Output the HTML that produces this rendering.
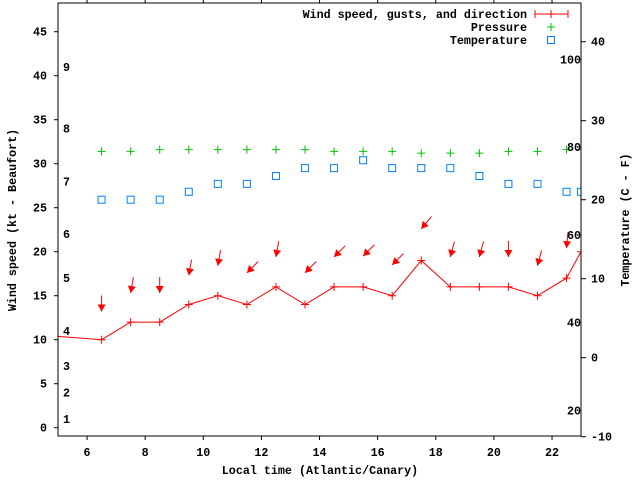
<!DOCTYPE html>
<html><head><meta charset="utf-8"><style>
body{margin:0;background:#fff}
svg{display:block}
text{font-family:"Liberation Mono",monospace;font-size:11.7px;font-weight:bold;fill:#000}
</style></head><body>
<svg id="c" width="640" height="480" viewBox="0 0 640 480" xmlns="http://www.w3.org/2000/svg">
<defs><clipPath id="pc"><rect x="58" y="3" width="523" height="433"/></clipPath></defs>
<g id="grid"></g>
<g id="plot" clip-path="url(#pc)"></g>
<g id="axes"></g>
</svg>
<script>
const hours=[4.5,6.5,7.5,8.5,9.5,10.5,11.5,12.5,13.5,14.5,15.5,16.5,17.5,18.5,19.5,20.5,21.5,22.5,23];
const windSpeed=[10.5,10,12,12,14,15,14,16,14,16,16,15,19,16,16,16,15,17,20];
const gustHours=[6.5,7.5,8.5,9.5,10.5,11.5,12.5,13.5,14.5,15.5,16.5,17.5,18.5,19.5,20.5,21.5,22.5,23];
const gusts=[13.2,15.3,15.3,17.3,18.4,17.6,19.4,17.6,19.4,19.5,18.5,22.6,19.4,19.4,19.4,18.4,20.4,23.5];
const directions=[0,10,0,10,10,45,10,45,45,45,45,40,15,15,0,15,5,35];
const pressure=[31.4,31.4,31.6,31.6,31.6,31.6,31.6,31.6,31.4,31.4,31.4,31.2,31.2,31.2,31.4,31.4,31.6,31.6];
const temperature=[20,20,20,21,22,22,23,24,24,25,24,24,24,23,22,22,21,21];
const xTicks=[6,8,10,12,14,16,18,20,22];
const yTicks=[0,5,10,15,20,25,30,35,40,45];
const y2Ticks=[-10,0,10,20,30,40];
const beaufort=[1,4,7,11,17,22,28,34,41];
const fahrenheit=[20,40,60,80,100];

const X=v=>58+(v-5)*29.06;
const Y=v=>427.7-v*8.8;
const Y2=v=>357.7-v*7.9;
const NS="http://www.w3.org/2000/svg";
function mk(tag,attrs,parent,txt){const e=document.createElementNS(NS,tag);for(const k in attrs)e.setAttribute(k,attrs[k]);if(txt!==undefined)e.textContent=txt;document.getElementById(parent).appendChild(e);return e;}
const ax='axes',pl='plot';
// frame
let e=mk('rect',{x:58,y:3,width:523,height:433,fill:'none',stroke:'#000','stroke-width':1},ax);

xTicks.forEach(t=>{const x=X(t);
 mk('line',{x1:x,y1:436,x2:x,y2:440,stroke:'#000'},ax);
 mk('line',{x1:x,y1:3,x2:x,y2:-1,stroke:'#000'},ax);
 e=mk('text',{x:x,y:456,'text-anchor':'middle'},ax,String(t));
 });
yTicks.forEach(t=>{const y=Y(t);
 mk('line',{x1:54,y1:y,x2:58,y2:y,stroke:'#000'},ax);
 e=mk('text',{x:47,y:y+4,'text-anchor':'end'},ax,String(t));
 });
y2Ticks.forEach(t=>{const y=Y2(t);
 mk('line',{x1:581,y1:y,x2:586,y2:y,stroke:'#000'},ax);
 e=mk('text',{x:591,y:y+4},ax,String(t));
 });
beaufort.forEach((b,i)=>{e=mk('text',{x:63,y:Y(b)+4},ax,String(i+1));
 });
fahrenheit.forEach(f=>{e=mk('text',{x:581,y:Y2((f-32)*5/9)+4,'text-anchor':'end'},ax,String(f));
 });
e=mk('text',{x:320,y:474,'text-anchor':'middle'},ax,'Local time (Atlantic/Canary)');

e=mk('text',{x:0,y:0,'text-anchor':'middle',transform:'translate(16,220) rotate(-90)'},ax,'Wind speed (kt - Beaufort)');

e=mk('text',{x:0,y:0,'text-anchor':'middle',transform:'translate(629,220) rotate(-90)'},ax,'Temperature (C - F)');

// wind line
const pts=hours.map((h,i)=>X(h)+','+Y(windSpeed[i])).join(' ');
e=mk('polyline',{points:pts,fill:'none',stroke:'#f00','stroke-width':1},pl);

function plus(x,y,c,name){const g=mk('path',{d:`M${x-4},${y}h8M${x},${y-4}v8`,stroke:c,'stroke-width':1,fill:'none'},pl);}
hours.forEach((h,i)=>plus(X(h),Y(windSpeed[i]),'#f00','wind-point'));
// arrows
gustHours.forEach((h,i)=>{const tx=X(h),ty=Y(gusts[i]);const a=directions[i]*Math.PI/180;
 const dx=Math.sin(a),dy=-Math.cos(a); // toward tail
 const L=16;
 e=mk('line',{x1:tx+dx*L,y1:ty+dy*L,x2:tx,y2:ty,stroke:'#f00','stroke-width':1},pl);
 
 const px=-dy,py=dx,hl=7,hw=4;
 const bx=tx+dx*hl,by=ty+dy*hl;
 e=mk('polygon',{points:`${tx},${ty} ${bx+px*hw},${by+py*hw} ${bx-px*hw},${by-py*hw}`,fill:'#f00'},pl);
 });
gustHours.forEach((h,i)=>plus(X(h),Y(pressure[i]),'#00c000','pressure-point'));
gustHours.forEach((h,i)=>{e=mk('rect',{x:X(h)-3.5,y:Y2(temperature[i])-3.5,width:7,height:7,fill:'none',stroke:'#0080ff','stroke-width':1},pl);
 });
// legend
const leg=[['Wind speed, gusts, and direction',14],['Pressure',27],['Temperature',40]];
leg.forEach(l=>{e=mk('text',{x:527,y:l[1]+4,'text-anchor':'end'},ax,l[0]);});
e=mk('path',{d:'M535,14h33M535,10v8M551,10v8M568,10v8',stroke:'#f00',fill:'none'},ax);

e=mk('path',{d:'M547,27h8M551,23v8',stroke:'#00c000',fill:'none'},ax);

e=mk('rect',{x:547.5,y:36.5,width:7,height:7,stroke:'#0080ff',fill:'none'},ax);

</script>
</body></html>
